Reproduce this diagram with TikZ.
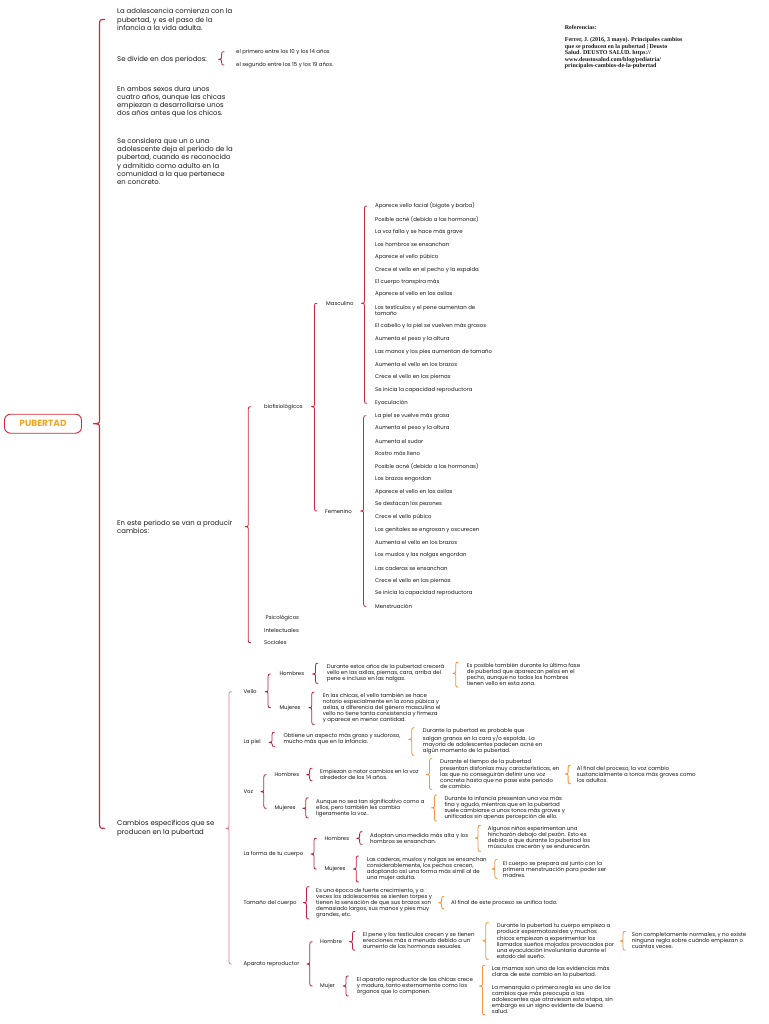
\documentclass[tikz,border=0pt]{standalone}
\usepackage{fontspec}
\setmainfont{Poppins}
\newfontfamily\reffont{Liberation Serif}
\usetikzlibrary{calc,positioning}
\definecolor{ink}{RGB}{25,25,25}
\definecolor{bmain}{RGB}{204,41,54}
\definecolor{bred}{RGB}{190,35,60}
\definecolor{bpink}{RGB}{226,125,140}
\definecolor{borange}{RGB}{240,150,60}
\definecolor{porange}{RGB}{245,166,35}
% brace from parent (#2) to children, top anchor #3, bottom anchor #4
\def\brcsz{1}
\newcommand{\brc}[4][bred]{%
  \draw[brc,#1] let \p1=(#3), \p2=(#4), \p3=(#2.east), \p4=($(#3)!.5!(#2.east)$) in
    ({\x4+2.5pt*\brcsz},\y1) .. controls ({\x4+0.4pt},\y1) .. ({\x4},{\y1-2.5pt*\brcsz})
    -- ({\x4},{\y3+2pt*\brcsz}) .. controls ({\x4},{\y3+0.4pt}) .. ({\x4-3pt*\brcsz},\y3)
    .. controls ({\x4},{\y3-0.4pt}) .. ({\x4},{\y3-2pt*\brcsz})
    -- ({\x4},{\y2+2.5pt*\brcsz}) .. controls ({\x4+0.4pt},\y2) .. ({\x4+2.5pt*\brcsz},\y2);}
\begin{document}
\begin{tikzpicture}[x=1pt,y=-1pt,
lvl/.style={anchor=west,align=left,inner sep=0pt,text=ink,font=\fontsize{6.9}{8.3}\selectfont},
item/.style={anchor=west,align=left,inner sep=0pt,inner ysep=0.5pt,text=ink,font=\fontsize{5.4}{5.8}\selectfont},
note/.style={anchor=west,align=left,inner xsep=0pt,inner ysep=1pt,text=ink,font=\fontsize{5.45}{6.05}\selectfont},
brc/.style={line width=0.8pt,line cap=round,line join=round}]
\fill[white] (0,0) rectangle (768,1024);
\useasboundingbox (0,0) rectangle (768,1024);

% root
\node[draw=bmain,line width=0.9pt,rounded corners=6pt,minimum width=77pt,minimum height=19pt,
  text=porange,font=\fontsize{9}{9}\selectfont\bfseries] (pub) at (43,423.7) {PUBERTAD};

% first level
\node[lvl] (t1) at (117,19.5) {La adolescencia comienza con la\\pubertad, y es el paso de la\\infancia a la vida adulta.};
\node[lvl] (t2) at (117,59.3) {Se divide en dos periodos:};
\node[lvl] (t3) at (117,101.8) {En ambos sexos dura unos\\cuatro años, aunque las chicas\\empiezan a desarrollarse unos\\dos años antes que los chicos.};
\node[lvl] (t4) at (117,161.5) {Se considera que un o una\\adolescente deja el período de la\\pubertad, cuando es reconocido\\y admitido como adulto en la\\comunidad a la que pertenece\\en concreto.};
\node[lvl] (t5) at (117,526.7) {En este periodo se van a producir\\cambios:};
\node[lvl] (t6) at (117,828.3) {Cambios específicos que se\\producen en la pubertad};

% periodos
\node[item] (p1) at (236,51.7) {el primero entre los 10 y los 14 años};
\node[item] (p2) at (236,65) {el segundo entre los 15 y los 19 años.};

% cambios
\node[item] (bio) at (264,406.7) {biofisiológicos};
\node[item] (psi) at (265.5,617.7) {Psicológicos};
\node[item] (int) at (264,630.7) {Intelectuales};
\node[item] (soc) at (264,642.7) {Sociales};
\node[item] (masc) at (326,303.3) {Masculino};
\node[item] (fem) at (325,511) {Femenino};

\foreach \y/\t [count=\i] in {206/Aparece vello facial (bigote y barba),219/Posible acné (debido a las hormonas),
  231.7/La voz falla y se hace más grave,244.3/Los hombros se ensanchan,256.7/Aparece el vello púbico,
  270/Crece el vello en el pecho y la espalda,282.3/El cuerpo transpira más,294.3/Aparece el vello en las axilas,
  310.5/Los testículos y el pene aumentan de\\tamaño,326/El cabello y la piel se vuelven más grasos,
  339.7/Aumenta el peso y la altura,351.7/Las manos y los pies aumentan de tamaño,
  364.3/Aumenta el vello en los brazos,377/Crece el vello en las piernas,
  389.7/Se inicia la capacidad reproductora,403.3/Eyaculación}
  \node[item] (m\i) at (375,\y) {\t};

\foreach \t [count=\i] in {La piel se vuelve más grasa,Aumenta el peso y la altura,Aumenta el sudor,
  Rostro más lleno,Posible acné (debido a las hormonas),Los brazos engordan,Aparece el vello en las axilas,
  Se destacan los pezones,Crece el vello púbico,Los genitales se engrosan y oscurecen,
  Aumenta el vello en los brazos,Los muslos y las nalgas engordan,Las caderas se ensanchan,
  Crece el vello en las piernas,Se inicia la capacidad reproductora,Menstruación}
  \node[item] (f\i) at (375,{415.7+12.71*(\i-1)}) {\t};

% cambios especificos
\node[item] (cvel) at (243.3,691.7) {Vello};
\node[item] (cpiel) at (243.3,742.3) {La piel};
\node[item] (cvoz) at (243.3,791.7) {Voz};
\node[item] (cforma) at (243.3,854) {La forma de tu cuerpo};
\node[item] (ctam) at (243.3,902.7) {Tamaño del cuerpo};
\node[item] (capar) at (243.3,964) {Aparato reproductor};

% vello
\node[item] (velh) at (279.3,674) {Hombres};
\node[item] (velm) at (279.3,707.7) {Mujeres};
\node[note] (velhA) at (326.7,673.3) {Durante estos años de la pubertad crecerá\\vello en las axilas, piernas, cara, arriba del\\pene e incluso en las nalgas.};
\node[note] (velhB) at (466.7,674.7) {Es posible también durante la última fase\\de pubertad que aparezcan pelos en el\\pecho, aunque no todos los hombres\\tienen vello en esta zona.};
\node[note] (velmA) at (322.7,708.3) {En las chicas, el vello también se hace\\notorio especialmente en la zona púbica y\\axilas, a diferencia del género masculino el\\vello no tiene tanta consistencia y firmeza\\y aparece en menor cantidad.};

% piel
\node[note] (pielA) at (283.3,739.3) {Obtiene un aspecto más graso y sudoroso,\\mucho más que en la infancia.};
\node[note] (pielB) at (422.7,741.5) { Durante la pubertad es probable que\\salgan granos en la cara y/o espalda. La\\mayoría de adolescentes padecen acné en\\algún momento de la pubertad.};

% voz
\node[item] (vozh) at (274.3,774.7) {Hombres};
\node[item] (vozm) at (274.3,808.3) {Mujeres};
\node[note] (vozhA) at (320,774.5) {Empiezan a notar cambios en la voz\\alrededor de los 14 años.};
\node[note] (vozhB) at (440,774) {Durante el tiempo de la pubertad\\presentan disfonías muy características, en\\las que no conseguirán definir una voz\\concreta hasta que no pase este periodo\\de cambio.};
\node[note] (vozhC) at (576.7,774.5) {Al final del proceso, la voz cambio\\sustancialmente a tonos más graves como\\los adultos.};
\node[note] (vozmA) at (316,807.8) {Aunque no sea tan significativo como a\\ellos, pero también les cambia\\ligeramente la voz..};
\node[note] (vozmB) at (444.3,808) {Durante la infancia presentan una voz más\\fina y aguda, mientras que en la pubertad\\suele cambiarse a unos tonos más graves y\\unificados sin apenas percepción de ello.};

% forma
\node[item] (forh) at (324.3,838.3) {Hombres};
\node[item] (form) at (324.3,869) {Mujeres};
\node[note] (forhA) at (370,838) {Adoptan una medida más alta y los\\hombros se ensanchan.};
\node[note] (forhB) at (487.7,838.3) {Algunos niños experimentan una\\hinchazón debajo del pezón. Esto es\\debido a que durante la pubertad los\\músculos crecerán y se endurecerán.};
\node[note] (formA) at (366.7,869) {Las caderas, muslos y nalgas se ensanchan\\considerablemente, los pechos crecen,\\adoptando así una forma más simil al de\\una mujer adulta.};
\node[note] (formB) at (502.7,869) {El cuerpo se prepara así junto con la\\primera menstruación para poder ser\\madres.};

% tamano
\node[note] (tamA) at (316,902.8) {Es una época de fuerte crecimiento, y a\\veces los adolescentes se sienten torpes y\\tienen la sensación de que sus brazos son\\demasiado largos, sus manos y pies muy\\grandes, etc.};
\node[note,minimum height=12pt] (tamB) at (451,902.7) {Al final de este proceso se unifica todo.};

% aparato reproductor
\node[item] (aph) at (320,941.7) {Hombre};
\node[item] (apm) at (320,986) {Mujer};
\node[note] (aphA) at (362.7,940.8) {El pene y los testículos crecen y se tienen\\erecciones más a menudo debido a un\\aumento de las hormonas sexuales.};
\node[note] (aphB) at (496.7,941) {Durante la pubertad tu cuerpo empieza a\\producir espermatozoides y muchos\\chicos empiezan a experimentar los\\llamados sueños mojados provocados por\\una eyaculación involuntaria durante el\\estado del sueño.};
\node[note] (aphC) at (631.7,940.8) {Son completamente normales, y no existe\\ninguna regla sobre cuándo empiezan o\\cuantas veces.};
\node[note] (apmA) at (356.7,986) {El aparato reproductor de las chicas crece\\y madura, tanto externamente como los\\órganos que lo componen.};
\node[note] (apmB) at (491.7,972.3) {Las mamas son una de las evidencias más\\claras de este cambio en la pubertad.};
\node[note] (apmC) at (491.7,999.3) {La menarquia o primera regla es uno de los\\cambios que más preocupa a las\\adolescentes que atraviesan esta etapa, sin\\embargo es un signo evidente de buena\\salud.};

% references
\node[anchor=west,inner sep=0pt,text=ink,font=\reffont\bfseries\fontsize{6}{6.6}\selectfont] (refh) at (564.7,27.7) {Referencias:};
\node[anchor=west,align=left,inner sep=0pt,text=ink,font=\reffont\bfseries\fontsize{6}{6.6}\selectfont] (refb) at (564.7,53.3)
  {Ferrer, J. (2016, 3 mayo). Principales cambios\\que se producen en la pubertad | Deusto\\Salud. DEUSTO SALUD. https://\\www.deustosalud.com/blog/pediatria/\\principales-cambios-de-la-pubertad};

% braces
{\def\brcsz{2}\brc[bmain,line width=1.1pt]{pub}{t1.west}{t6.west}}
\brc[bmain]{t2}{p1.west}{p2.west}
\brc[bmain]{t5}{bio.west}{soc.west}
\brc[bmain]{bio}{masc.west}{fem.west}
\brc[bmain]{masc}{m1.west}{m16.west}
\brc[bmain]{fem}{f1.west}{f16.west}
\brc[bpink]{t6}{cvel.west}{capar.west}
\brc{cvel}{velh.west}{velm.west}
\brc{velh}{velhA.north west}{velhA.south west}
\brc[borange]{velhA}{velhB.north west}{velhB.south west}
\brc{velm}{velmA.north west}{velmA.south west}
\brc{cpiel}{pielA.north west}{pielA.south west}
\brc[borange]{pielA}{pielB.north west}{pielB.south west}
\brc{cvoz}{vozh.west}{vozm.west}
\brc{vozh}{vozhA.north west}{vozhA.south west}
\brc[borange]{vozhA}{vozhB.north west}{vozhB.south west}
\brc[borange]{vozhB}{vozhC.north west}{vozhC.south west}
\brc{vozm}{vozmA.north west}{vozmA.south west}
\brc[borange]{vozmA}{vozmB.north west}{vozmB.south west}
\brc{cforma}{forh.west}{form.west}
\brc{forh}{forhA.north west}{forhA.south west}
\brc[borange]{forhA}{forhB.north west}{forhB.south west}
\brc{form}{formA.north west}{formA.south west}
\brc[borange]{formA}{formB.north west}{formB.south west}
\brc{ctam}{tamA.north west}{tamA.south west}
\brc[borange]{tamA}{tamB.north west}{tamB.south west}
\brc{capar}{aph.west}{apm.west}
\brc{aph}{aphA.north west}{aphA.south west}
\brc[borange]{aphA}{aphB.north west}{aphB.south west}
\brc[borange]{aphB}{aphC.north west}{aphC.south west}
\brc{apm}{apmA.north west}{apmA.south west}
\brc[borange]{apmA}{apmB.north west}{apmC.south west}
\end{tikzpicture}
\end{document}
